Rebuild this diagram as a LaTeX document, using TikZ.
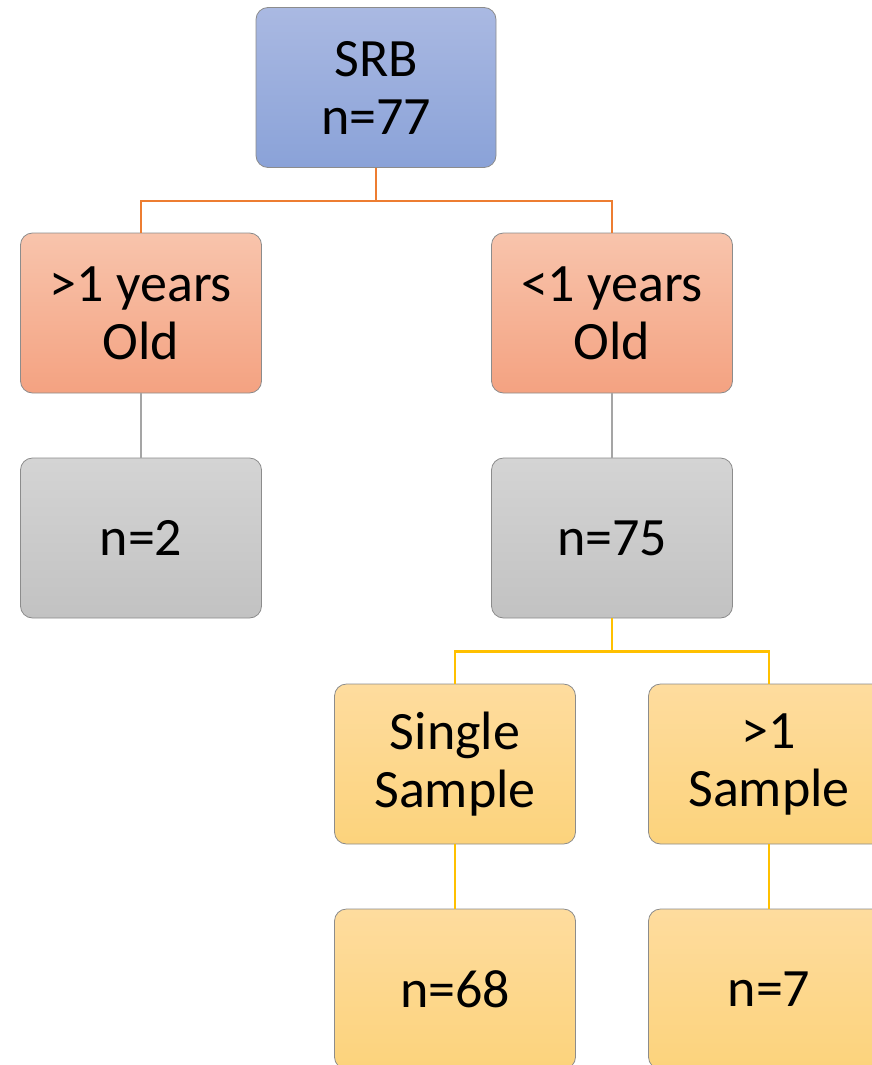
\documentclass[tikz,border=0pt]{standalone}
\usepackage{fontspec}
\setmainfont{Carlito}
\usepackage{xcolor}
\definecolor{bluetop}{HTML}{AAB9E2}
\definecolor{bluebot}{HTML}{8AA2D8}
\definecolor{saltop}{HTML}{F8C4AC}
\definecolor{salbot}{HTML}{F4A281}
\definecolor{graytop}{HTML}{D4D4D4}
\definecolor{graybot}{HTML}{C2C2C2}
\definecolor{yeltop}{HTML}{FEDC9E}
\definecolor{yelbot}{HTML}{FCD37C}
\definecolor{edge}{HTML}{8C8C8C}
\definecolor{lorange}{HTML}{ED7D31}
\definecolor{lgray}{HTML}{A5A5A5}
\definecolor{lyellow}{HTML}{FFC000}
\usetikzlibrary{positioning,calc}
\tikzset{
  box/.style={draw=edge,rounded corners=12pt,line width=0.8pt,minimum width=241pt,minimum height=160pt,
    align=center,font=\fontsize{54}{58}\selectfont,inner sep=0pt},
  bbox/.style={box,top color=bluetop,bottom color=bluebot},
  sbox/.style={box,top color=saltop,bottom color=salbot},
  gbox/.style={box,top color=graytop,bottom color=graybot},
  ybox/.style={box,top color=yeltop,bottom color=yelbot},
  oline/.style={draw=lorange,line width=2.6pt},
  gline/.style={draw=lgray,line width=2.6pt},
  yline/.style={draw=lyellow,line width=2.6pt},
}
\begin{document}
\begin{tikzpicture}[x=1pt,y=-1pt]
\useasboundingbox (0,0) rectangle (872,1065);
\clip (0,0) rectangle (872,1065);
\node[bbox,minimum width=240pt] (srb) at (376,87.5) {SRB\\n=77};
\node[sbox] (old) at (141,313) {>1 years\\Old};
\node[sbox] (young) at (612,313) {<1 years\\Old};
\node[gbox] (n2) at (141,538) {n=2};
\node[gbox] (n75) at (612,538) {n=75};
\node[ybox] (single) at (455,764) {Single\\Sample};
\node[ybox] (multi) at (769,764) {>1\\Sample};
\node[ybox] (n68) at (455,989) {n=68};
\node[ybox] (n7) at (769,989) {n=7};
% connectors
\draw[oline] (srb.south) -- ++(0,33) -| (old.north);
\draw[oline] (srb.south) -- ++(0,33) -| (young.north);
\draw[gline] (old) -- (n2);
\draw[gline] (young) -- (n75);
\draw[yline] (n75.south) -- ++(0,33) -| (single.north);
\draw[yline] (n75.south) -- ++(0,33) -| (multi.north);
\draw[yline] (single) -- (n68);
\draw[yline] (multi) -- (n7);
\end{tikzpicture}
\end{document}
